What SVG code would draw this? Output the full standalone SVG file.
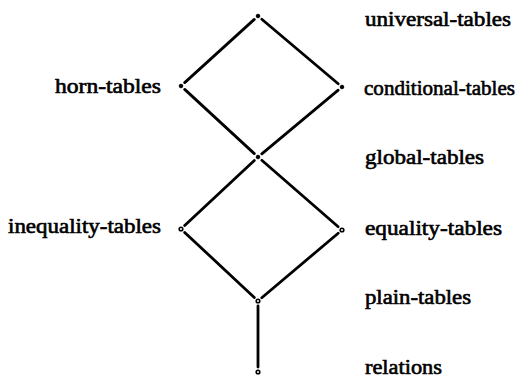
<svg xmlns="http://www.w3.org/2000/svg" width="531" height="387" viewBox="0 0 531 387">
<style>
.lbl{font-family:"Liberation Serif","Times New Roman",serif;font-size:20px;fill:#000;stroke:#000;stroke-width:0.6}
.edge{stroke:#000;stroke-width:2.8;stroke-linecap:round;fill:none}
.dot{fill:#000;stroke:#000;stroke-width:1}
.ring{fill:#fff;stroke:#000;stroke-width:1.6}
</style>
<rect width="531" height="387" fill="#fff"/>
<g id="connectors">
<line class="edge" x1="254.3" y1="19.4" x2="184.7" y2="82.6"/>
<line class="edge" x1="261.8" y1="19.2" x2="338.2" y2="83.8"/>
<line class="edge" x1="184.7" y1="89.4" x2="254.3" y2="153.6"/>
<line class="edge" x1="338.2" y1="90.2" x2="261.8" y2="153.8"/>
<line class="edge" x1="254.3" y1="160.4" x2="184.7" y2="225.6"/>
<line class="edge" x1="261.8" y1="160.3" x2="338.2" y2="226.7"/>
<line class="edge" x1="184.7" y1="232.4" x2="254.3" y2="297.6"/>
<line class="edge" x1="338.2" y1="233.2" x2="261.8" y2="297.8"/>
<line class="edge" x1="258" y1="306" x2="258" y2="367"/>
</g>
<g id="universal-tables">
<circle class="dot" cx="258" cy="16" r="1.8"/>
<text class="lbl" x="365" y="26" textLength="146" lengthAdjust="spacingAndGlyphs">universal-tables</text>
</g>
<g id="horn-tables">
<circle class="dot" cx="181" cy="86" r="1.8"/>
<text class="lbl" x="55" y="93" textLength="106" lengthAdjust="spacingAndGlyphs">horn-tables</text>
</g>
<g id="conditional-tables">
<circle class="dot" cx="342" cy="87" r="1.8"/>
<text class="lbl" x="364" y="95" textLength="151" lengthAdjust="spacingAndGlyphs">conditional-tables</text>
</g>
<g id="global-tables">
<circle class="dot" cx="258" cy="157" r="1.8"/>
<text class="lbl" x="365" y="164" textLength="119" lengthAdjust="spacingAndGlyphs">global-tables</text>
</g>
<g id="inequality-tables">
<circle class="ring" cx="181" cy="229" r="1.8"/>
<text class="lbl" x="8" y="233" textLength="153" lengthAdjust="spacingAndGlyphs">inequality-tables</text>
</g>
<g id="equality-tables">
<circle class="ring" cx="342" cy="230" r="1.8"/>
<text class="lbl" x="365" y="235" textLength="137" lengthAdjust="spacingAndGlyphs">equality-tables</text>
</g>
<g id="plain-tables">
<circle class="ring" cx="258" cy="301" r="1.8"/>
<text class="lbl" x="365" y="304" textLength="106" lengthAdjust="spacingAndGlyphs">plain-tables</text>
</g>
<g id="relations">
<circle class="ring" cx="258" cy="372" r="1.8"/>
<text class="lbl" x="365" y="374" textLength="77" lengthAdjust="spacingAndGlyphs">relations</text>
</g>
</svg>
